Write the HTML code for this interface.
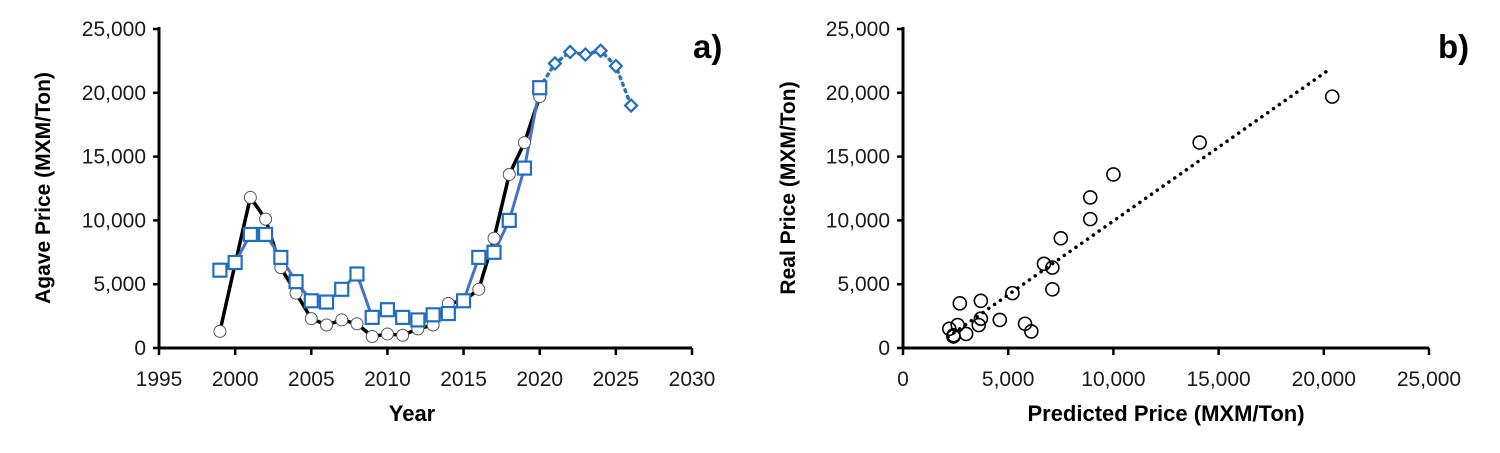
<!DOCTYPE html>
<html><head><meta charset="utf-8"><style>
html,body{margin:0;padding:0;background:#fff;}
svg{display:block;font-family:"Liberation Sans",Arial,sans-serif;}
</style></head><body>
<svg id="c" width="1500" height="453" viewBox="0 0 1500 453">
<text x="693" y="58" font-size="33" font-weight="bold">a)</text>
<text x="1438" y="58" font-size="33" font-weight="bold">b)</text>
<text x="412" y="421" font-size="22" font-weight="bold" text-anchor="middle">Year</text>
<text transform="translate(50,188) rotate(-90)" font-size="21" font-weight="bold" text-anchor="middle">Agave Price (MXM/Ton)</text>
<text x="1166" y="421" font-size="22" font-weight="bold" text-anchor="middle">Predicted Price (MXM/Ton)</text>
<text transform="translate(795,188) rotate(-90)" font-size="21" font-weight="bold" text-anchor="middle">Real Price (MXM/Ton)</text>
<g id="ga"></g><g id="gb"></g>
</svg>
<script>
const years=[1999,2000,2001,2002,2003,2004,2005,2006,2007,2008,2009,2010,2011,2012,2013,2014,2015,2016,2017,2018,2019,2020];
const realPrice=[1300,6600,11800,10100,6300,4300,2300,1800,2200,1900,900,1100,1000,1500,1800,3500,3700,4600,8600,13600,16100,19700];
const predPrice=[6100,6700,8900,8900,7100,5200,3700,3600,4600,5800,2400,3000,2400,2200,2600,2700,3700,7100,7500,10000,14100,20400];
const forecastYears=[2020,2021,2022,2023,2024,2025,2026];
const forecastPrice=[20400,22300,23200,23000,23300,22100,19000];
const yTicks=[0,5000,10000,15000,20000,25000];
const xTicksA=[1995,2000,2005,2010,2015,2020,2025,2030];
const xTicksB=[0,5000,10000,15000,20000,25000];
const trendX=[2140,20240];
const trendSlope=1.157, trendIntercept=-1616;

const NS="http://www.w3.org/2000/svg";
function mk(p,t,a){const e=document.createElementNS(NS,t);for(const k in a)e.setAttribute(k,a[k]);p.appendChild(e);return e;}
const fmt=v=>v.toLocaleString('en-US');
const y0=348,y1=29;
const yS=v=>y0+(y1-y0)*v/25000;
const xA=v=>159+(v-1995)*(692-159)/35;
const xB=v=>903+v*(1429-903)/25000;
const ga=document.getElementById('ga'), gb=document.getElementById('gb');

function axes(g,xs,xticks,xl,xr,nm){
  let a=mk(g,'line',{x1:xl,y1:y0,x2:xr,y2:y0,stroke:'#000','stroke-width':3});
  
  a=mk(g,'line',{x1:xl,y1:y1-2,x2:xl,y2:y0+1.5,stroke:'#000','stroke-width':3});
  
  yTicks.forEach(v=>{
    const t=mk(g,'line',{x1:xl-6,y1:yS(v),x2:xl,y2:yS(v),stroke:'#000','stroke-width':2.5});
    
    const l=mk(g,'text',{x:xl-13,y:yS(v)+7,'font-size':21,'text-anchor':'end',fill:'#1a1a1a'});
    l.textContent=fmt(v);
    
  });
  xticks.forEach(v=>{
    const t=mk(g,'line',{x1:xs(v),y1:y0,x2:xs(v),y2:y0+7,stroke:'#000','stroke-width':2.5});
    
    const l=mk(g,'text',{x:xs(v),y:y0+38,'font-size':21,'text-anchor':'middle',fill:'#1a1a1a'});
    l.textContent=nm==='a'?String(v):fmt(v);
    
  });
}
axes(ga,xA,xTicksA,159,692,'a');
axes(gb,xB,xTicksB,903,1429,'b');

let p=mk(ga,'polyline',{points:years.map((y,i)=>xA(y)+','+yS(realPrice[i])).join(' '),fill:'none',stroke:'#000','stroke-width':3.5});

p=mk(ga,'polyline',{points:years.map((y,i)=>xA(y)+','+yS(predPrice[i])).join(' '),fill:'none',stroke:'#4472c4','stroke-width':3});

p=mk(ga,'polyline',{points:forecastYears.map((y,i)=>xA(y)+','+yS(forecastPrice[i])).join(' '),fill:'none',stroke:'#2e75b6','stroke-width':3.5,'stroke-dasharray':'2 5','stroke-linecap':'round'});

years.forEach((y,i)=>{
  const c=mk(ga,'circle',{cx:xA(y),cy:yS(realPrice[i]),r:6,fill:'#fff',stroke:'#555','stroke-width':1});
  
});
years.forEach((y,i)=>{
  const r=mk(ga,'rect',{x:xA(y)-6.5,y:yS(predPrice[i])-6.5,width:13,height:13,fill:'#fff',stroke:'#1f6fc0','stroke-width':2.2});
  
});
forecastYears.slice(1).forEach((y,i)=>{
  const cx=xA(y),cy=yS(forecastPrice[i+1]);
  const d=mk(ga,'polygon',{points:`${cx},${cy-6} ${cx+6},${cy} ${cx},${cy+6} ${cx-6},${cy}`,fill:'#fff',stroke:'#1f6fc0','stroke-width':2.2});
  
});

p=mk(gb,'line',{x1:xB(trendX[0]),y1:yS(trendSlope*trendX[0]+trendIntercept),x2:xB(trendX[1]),y2:yS(trendSlope*trendX[1]+trendIntercept),stroke:'#000','stroke-width':3.5,'stroke-dasharray':'0.1 7','stroke-linecap':'round'});

years.forEach((y,i)=>{
  const c=mk(gb,'circle',{cx:xB(predPrice[i]),cy:yS(realPrice[i]),r:6.5,fill:'none',stroke:'#000','stroke-width':1.6});
  
});
</script>
</body></html>
